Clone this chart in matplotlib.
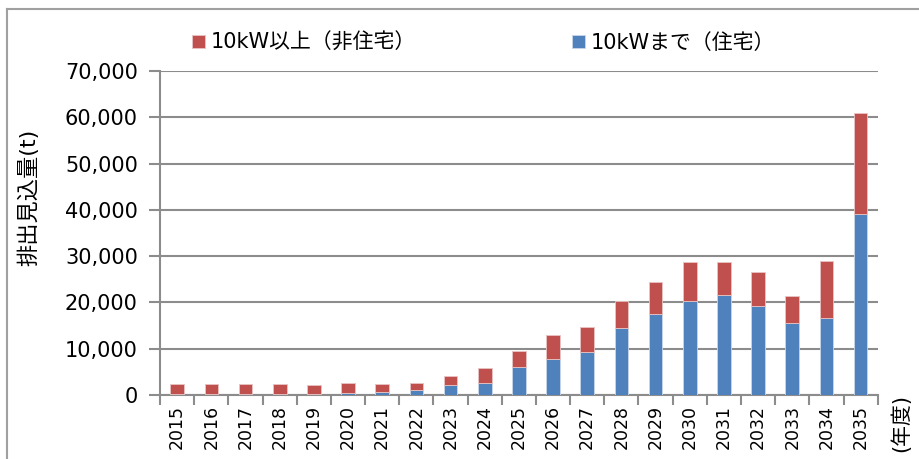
"""
Expected PV panel waste by fiscal year (stacked bars).
"""

import numpy as np
import matplotlib.pyplot as plt
from matplotlib.lines import Line2D
from matplotlib.ticker import FuncFormatter, FixedLocator

plt.rcParams['font.family'] = ['DejaVu Sans', 'Noto Sans CJK JP']

years = [str(y) for y in range(2015, 2036)]
residential = [300, 300, 300, 300, 300, 500, 650, 1000, 2150, 2650, 6000,
               7700, 9300, 14450, 17600, 20300, 21500, 19200, 15500, 16700, 39000]
total = [2400, 2400, 2400, 2400, 2200, 2700, 2400, 2700, 4100, 5800, 9450,
         13000, 14650, 20300, 24450, 28650, 28800, 26600, 21300, 28850, 60900]
non_residential = [t - r for t, r in zip(total, residential)]

label_nonres = '10kW以上（非住宅）'
label_res = '10kWまで（住宅）'

RED = '#C0504D'
BLUE = '#4F81BD'
GRID = '#8C8C8C'

fig = plt.figure(figsize=(9.2, 4.59), dpi=100)
ax = fig.add_axes([0.174, 0.1394, 0.780, 0.7059])

x = np.arange(len(years))
ax.bar(x, residential, width=0.4, color=BLUE, edgecolor='#C9D7EA',
       linewidth=0.6, zorder=3, label=label_res)
ax.bar(x, non_residential, width=0.4, bottom=residential, color=RED,
       edgecolor='#E8C4C3', linewidth=0.6, zorder=3, label=label_nonres)

ax.set_xlim(-0.5, len(years) - 0.5)
ax.set_ylim(0, 70000)
ax.set_yticks(np.arange(0, 70001, 10000))
ax.yaxis.set_major_formatter(FuncFormatter(lambda v, p: f'{int(v):,}'))
ax.grid(True, axis='y', color=GRID, linewidth=1.5, zorder=0)

ax.set_xticks(x)
ax.set_xticklabels(years, rotation=90, fontsize=12.5)
ax.xaxis.set_minor_locator(FixedLocator(np.arange(-0.5, len(years), 1.0)))
ax.tick_params(axis='x', which='major', length=0, pad=7)
ax.tick_params(axis='x', which='minor', length=7, width=1.5, color=GRID)
ax.tick_params(axis='y', length=8, width=1.5, color=GRID, labelsize=15, pad=8)

for side in ('top', 'right'):
    ax.spines[side].set_visible(False)
for side in ('left', 'bottom'):
    ax.spines[side].set_color(GRID)
    ax.spines[side].set_linewidth(1.5)

ax.set_ylabel('排出見込量(t)', fontsize=16)
ax.yaxis.set_label_coords(-0.168, 0.61)
fig.text(0.979, 0.015, '(年度)', rotation=90, fontsize=15, ha='center', va='bottom')

h, l = ax.get_legend_handles_labels()
ax.legend(h[::-1], l[::-1], ncol=2, frameon=False, fontsize=15,
          loc='lower left', bbox_to_anchor=(0.033, 1.03),
          handlelength=0.6, handleheight=0.6, handletextpad=0.3,
          columnspacing=7.5, borderaxespad=0)

# outer chart frame
fig.add_artist(Line2D([0.008, 0.008], [0.0, 0.981], color='#A0A0A0', lw=1.5))
fig.add_artist(Line2D([0.008, 1.0], [0.981, 0.981], color='#A0A0A0', lw=1.5))

plt.savefig('out.png', dpi=100)
plt.close()
